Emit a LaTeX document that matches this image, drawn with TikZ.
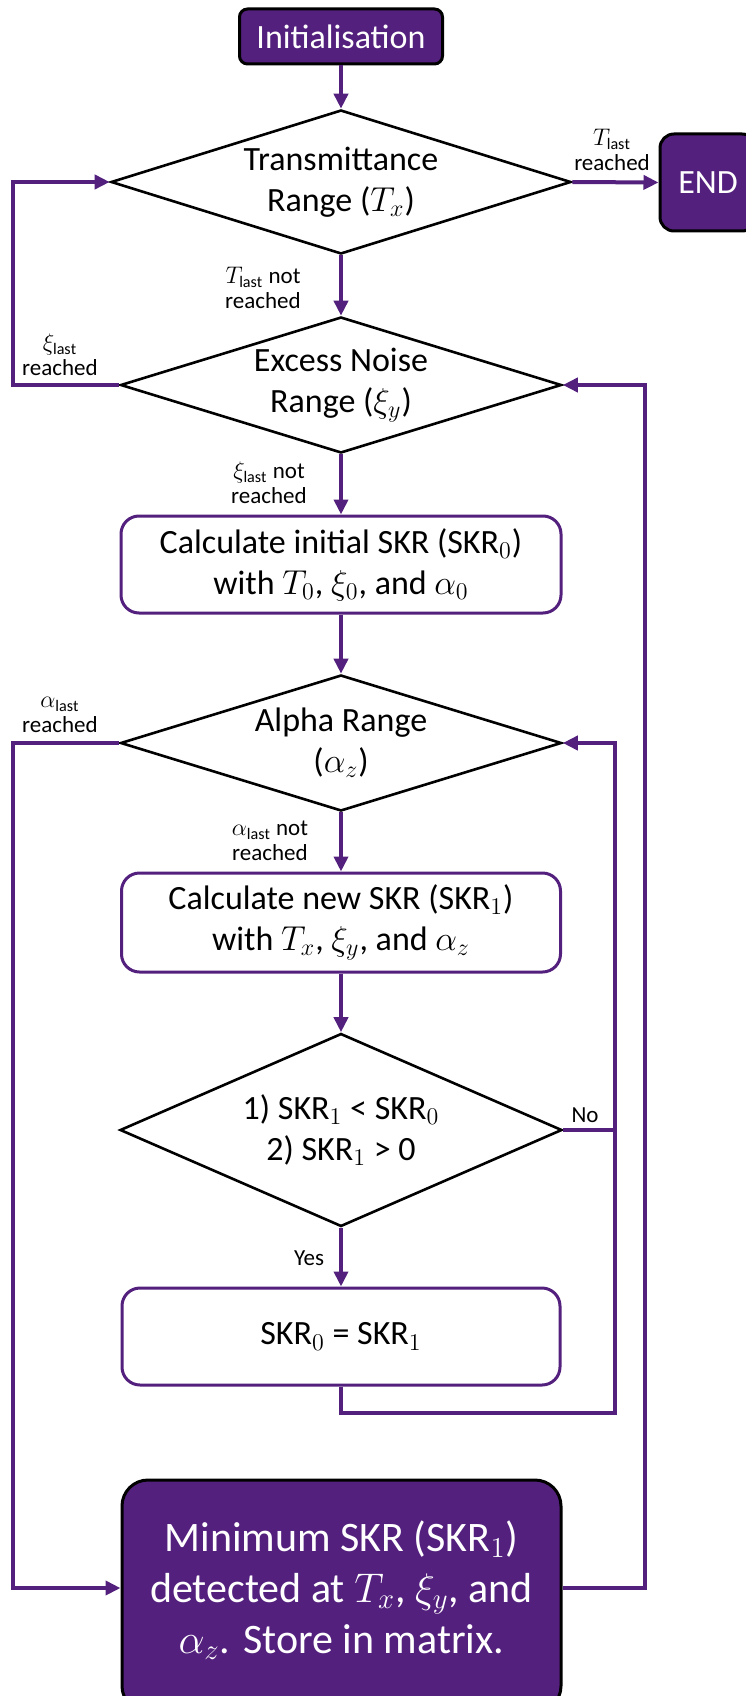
\documentclass[tikz,border=0pt]{standalone}
\usepackage{fontspec}
\setmainfont{Carlito}
\usetikzlibrary{shapes.geometric,arrows.meta}
\definecolor{vio}{RGB}{83,32,125}
\begin{document}
\begin{tikzpicture}[x=0.5pt,y=-0.5pt,
  conn/.style={draw=vio,line width=2pt},
  arr/.style={conn,-{Triangle[length=7.5pt,width=7pt]}},
  dia/.style={shape=diamond,draw=black,line width=1.3pt,inner sep=0pt},
  pbox/.style={draw=vio,line width=1.5pt,rounded corners=9pt,fill=white,inner sep=0pt},
  fbox/.style={draw=black,line width=1.5pt,fill=vio,text=white,inner sep=0pt},
  txt/.style={font=\fontsize{17}{20.5}\selectfont,align=center},
  lbl/.style={font=\fontsize{11.5}{12.5}\selectfont,align=center},
]
\useasboundingbox (0,0) rectangle (745,1696);

% nodes
\node[fbox,rounded corners=4pt,minimum width=101.5pt,minimum height=27.5pt,txt] (init) at (341,36.5) {Initialisation};
\node[dia,minimum width=230pt,minimum height=72pt] (d1) at (341,182) {};
\node[txt] (t1) at (d1) {Transmittance\\Range ($T_x$)};
\node[fbox,rounded corners=7pt,minimum width=48pt,minimum height=48.5pt,txt] (endn) at (708,182.5) {END};
\node[dia,minimum width=220.5pt,minimum height=68pt] (d2) at (341,385) {};
\node[txt] (t2) at (d2) {Excess Noise\\Range ($\xi_y$)};
\node[pbox,minimum width=220pt,minimum height=48.5pt,txt] (b1) at (341,564.5) {Calculate initial SKR ($\mathrm{SKR}_0$)\\with $T_0$, $\xi_0$, and $\alpha_0$};
\node[dia,minimum width=220.5pt,minimum height=68pt] (d3) at (341,743) {};
\node[txt] (t3) at (d3) {Alpha Range\\($\alpha_z$)};
\node[pbox,minimum width=219.5pt,minimum height=49.5pt,txt] (b2) at (341,922.5) {Calculate new SKR ($\mathrm{SKR}_1$)\\with $T_x$, $\xi_y$, and $\alpha_z$};
\node[dia,minimum width=221pt,minimum height=96.5pt] (d4) at (341,1130) {};
\node[txt] (t4) at (d4) {1) $\mathrm{SKR}_1$ < $\mathrm{SKR}_0$\\2) $\mathrm{SKR}_1$ > 0};
\node[pbox,minimum width=219pt,minimum height=48.5pt,txt] (b3) at (341,1336.5) {$\mathrm{SKR}_0$ = $\mathrm{SKR}_1$};
\node[fbox,rounded corners=13pt,minimum width=219.5pt,minimum height=116pt,font=\fontsize{21}{25.5}\selectfont,align=center] (mb) at (341.5,1596) {};
\node[font=\fontsize{21}{25.5}\selectfont,align=center,text=white] (mbt) at (341.5,1590) {Minimum SKR ($\mathrm{SKR}_1$)\\detected at $T_x$, $\xi_y$, and\\$\alpha_z$. Store in matrix.};

% labels
\node[lbl] (l1) at (612,150) {$T_\mathrm{last}$\\reached};
\node[lbl] (l2) at (263,288) {$T_\mathrm{last}$ not\\reached};
\node[lbl] (l3) at (60,355) {$\xi_\mathrm{last}$\\reached};
\node[lbl] (l4) at (269,483) {$\xi_\mathrm{last}$ not\\reached};
\node[lbl] (l5) at (60,715) {$\alpha_\mathrm{last}$\\reached};
\node[lbl] (l6) at (270,841) {$\alpha_\mathrm{last}$ not\\reached};
\node[lbl] (l7) at (585,1115) {No};
\node[lbl] (l8) at (309,1258) {Yes};

% coordinates
\coordinate (c1) at (13,385);
\coordinate (c3) at (13,743);
\coordinate (c4) at (615,1130);
\coordinate (c5) at (341,1413);
\coordinate (c6) at (615,1413);
\coordinate (c7) at (645,1588);
\coordinate (c8) at (13,1588);

% connectors
\draw[arr] (init.south) -- (d1.north);
\draw[arr] (d1.east) -- (endn.west);
\draw[arr] (d1.south) -- (d2.north);
\draw[arr] (d2.west) -- (c1) |- (d1.west);
\draw[arr] (d2.south) -- (b1.north);
\draw[arr] (b1.south) -- (d3.north);
\draw[arr] (d3.west) -- (c3) -- (c8) -- (mb.west |- c8);
\draw[arr] (d3.south) -- (b2.north);
\draw[arr] (b2.south) -- (d4.north);
\draw[arr] (d4.south) -- (b3.north);
\draw[conn] (d4.east) -- (c4);
\draw[arr] (b3.south) -- (c5) -- (c6) |- (d3.east);
\draw[arr] (mb.east |- c7) -- (c7) |- (d2.east);
\end{tikzpicture}
\end{document}
